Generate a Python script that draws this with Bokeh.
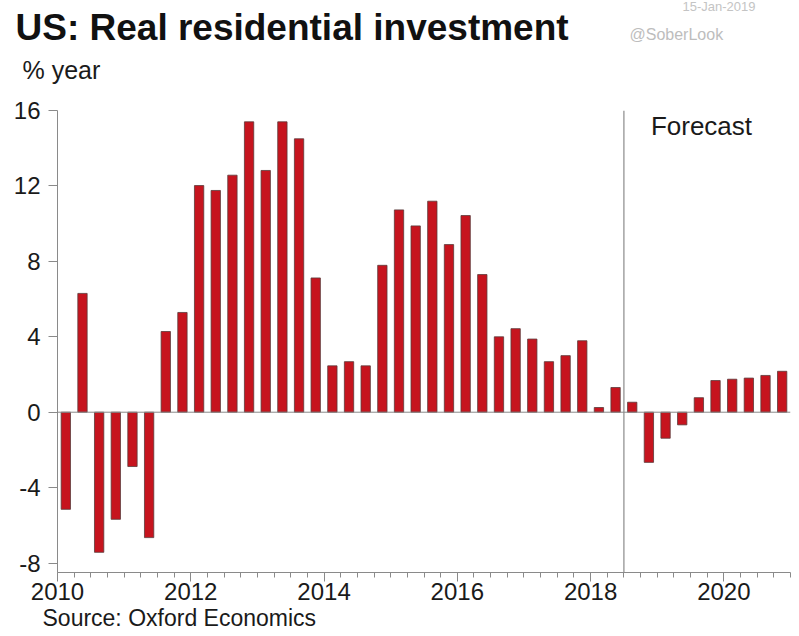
from bokeh.plotting import figure
from bokeh.models import Range1d, FixedTicker, Span, Title, ColumnDataSource
from bokeh.core.properties import value
from bokeh.embed import file_html
from bokeh.resources import INLINE

# ---- data (Real residential investment, % year, quarterly 2010Q1-2020Q4) ----
start_year = 2010
values = [
    -5.15, 6.30, -7.43, -5.68,      # 2010
    -2.88, -6.65, 4.28, 5.29,       # 2011
    12.02, 11.76, 12.57, 15.40,     # 2012
    12.82, 15.40, 14.50, 7.12,      # 2013
    2.46, 2.68, 2.46, 7.79,         # 2014
    10.73, 9.88, 11.19, 8.89,       # 2015
    10.43, 7.30, 4.00, 4.43,        # 2016
    3.88, 2.68, 3.00, 3.79,         # 2017
    0.25, 1.31, 0.53, -2.66,        # 2018
    -1.38, -0.67, 0.77, 1.68,       # 2019
    1.75, 1.81, 1.95, 2.17,         # 2020
]
tick_years = [2010, 2012, 2014, 2016, 2018, 2020]
y_ticks = [-8, -4, 0, 4, 8, 12, 16]
forecast_start = 2018.5

title_text = "US: Real residential investment"
unit_text = "% year"
date_text = "15-Jan-2019"
handle_text = "@SoberLook"
forecast_text = "Forecast"
source_text = "Source: Oxford Economics"

quarter_x = [start_year + (i + 0.5) / 4 for i in range(len(values))]
minor_x = [start_year + i / 4 for i in range(len(values) + 1)]

FONT = "Liberation Sans"
TXT = "#1a1a1a"
GRAY = "#8a8a8a"
W = 799
HEAD_H = 98

# ---- header (title, unit, date, handle); pixel coordinates, y from top ----
head = figure(width=W, height=HEAD_H, output_backend="svg", toolbar_location=None,
              x_range=Range1d(0, W), y_range=Range1d(HEAD_H, 0),
              x_axis_type=None, y_axis_type=None, min_border=0)
head.outline_line_color = None
head.xgrid.visible = False
head.ygrid.visible = False
head.text(x=[15], y=[27], text=[title_text], text_font=value(FONT),
          text_font_style="bold", text_font_size="37px", text_color="#111111",
          text_baseline="alphabetic")
head.text(x=[22], y=[69], text=[unit_text], text_font=value(FONT),
          text_font_size="25px", text_color=TXT, text_baseline="alphabetic")
head.text(x=[682], y=[6], text=[date_text], text_font=value(FONT),
          text_font_size="13px", text_color="#c4c4c4", text_baseline="alphabetic")
head.text(x=[629], y=[34], text=[handle_text], text_font=value(FONT),
          text_font_size="16px", text_color="#bdbdbd", text_baseline="alphabetic")

# ---- main chart ----
src = ColumnDataSource(dict(x=quarter_x, top=values))
p = figure(width=W, height=538, output_backend="svg", toolbar_location=None,
           x_range=Range1d(2010, 2021), y_range=Range1d(-8.5, 16),
           min_border_left=57, min_border_right=9, min_border_top=12,
           min_border_bottom=64)
p.outline_line_color = None
p.xgrid.visible = False
p.ygrid.visible = False

p.vbar(x="x", top="top", bottom=0, width=0.14, source=src,
       fill_color="#C6141E", line_color="#5a3a3a", line_width=0.8)

p.add_layout(Span(location=0, dimension="width", line_color=GRAY, line_width=1))
p.add_layout(Span(location=forecast_start, dimension="height", line_color=GRAY, line_width=1.2))

p.text(x=[forecast_start], y=[15.2], text=[forecast_text], x_offset=27,
       text_font=value(FONT), text_font_size="26px", text_color=TXT,
       text_baseline="alphabetic")

xa = p.xaxis[0]
xa.ticker = FixedTicker(ticks=tick_years, minor_ticks=minor_x)
xa.axis_line_color = GRAY
xa.major_tick_line_color = GRAY
xa.minor_tick_line_color = GRAY
xa.major_tick_out = 9
xa.major_tick_in = 0
xa.minor_tick_out = 5
xa.minor_tick_in = 0
xa.major_label_text_font = FONT
xa.major_label_text_font_size = "24px"
xa.major_label_text_color = TXT
xa.major_label_standoff = 1

ya = p.yaxis[0]
ya.ticker = FixedTicker(ticks=y_ticks, minor_ticks=[])
ya.major_label_overrides = {t: str(t) for t in y_ticks}
ya.axis_line_color = GRAY
ya.major_tick_line_color = GRAY
ya.major_tick_out = 9
ya.major_tick_in = 0
ya.minor_tick_line_color = None
ya.major_label_text_font = FONT
ya.major_label_text_font_size = "24px"
ya.major_label_text_color = TXT
ya.major_label_standoff = 8

p.add_layout(Title(text=source_text, align="left", offset=-15, standoff=0,
                   text_font=FONT, text_font_size="23px", text_font_style="normal",
                   text_color=TXT), "below")

open("out.html", "w").write(file_html([head, p], INLINE))
